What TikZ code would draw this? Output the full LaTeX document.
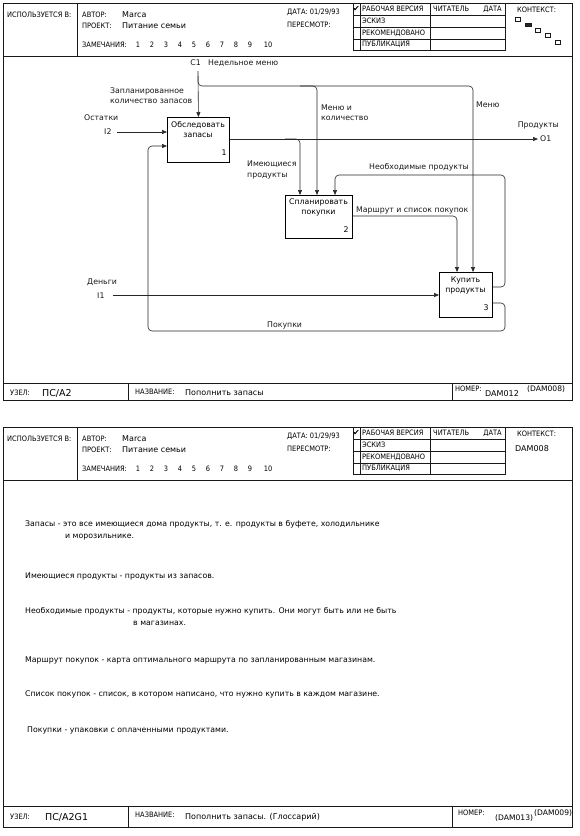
\documentclass[tikz,border=0pt]{standalone}
\usepackage{fontspec}
\setmainfont{DejaVu Sans}
\newfontfamily\condf{DejaVu Sans Condensed}
\usetikzlibrary{arrows.meta,calc}
\tikzset{
 frm/.style={draw=black!90, line width=0.9pt},
 thinl/.style={draw=black!90, line width=0.7pt},
 hcap/.style={font=\condf\fontsize{7.4}{8}\selectfont, inner sep=0pt, anchor=west, text=black},
 val/.style={font=\fontsize{8}{9.5}\selectfont, inner sep=0pt, anchor=west, text=black},
 lbl/.style={font=\fontsize{7.8}{10.5}\selectfont, inner sep=0pt, align=left, anchor=west, text=black!90},
 ptxt/.style={font=\fontsize{7.8}{10}\selectfont, inner sep=0pt, align=center, text=black},
 proc/.style={draw=black, line width=0.9pt, anchor=north west, inner sep=0pt},
 arr/.style={draw=black!85, line width=0.6pt, -{Triangle[length=5pt,width=4pt]}},
 rc/.style={rounded corners=4pt},
 gl/.style={font=\fontsize{7.8}{9}\selectfont, inner sep=0pt, anchor=west, text=black},
 ctxbox/.style={draw=black!90, line width=0.5pt},
}
\newcommand{\idefform}[3]{%
 \draw[frm] (3,3) rectangle (572,#3);
 \draw[frm] (3,56) -- (572,56);
 \draw[frm] (77,3) -- (77,56);
 \draw[frm] (3,#2) -- (572,#2);
 \draw[frm] (128,#2) -- (128,#3);
 \draw[frm] (452,#2) -- (452,#3);
 \draw[thinl] (353,3) rectangle (505,50);
 \draw[thinl] (360,3) -- (360,50);
 \draw[thinl] (430,3) -- (430,50);
 \draw[thinl] (353,15) -- (505,15);
 \draw[thinl] (353,27) -- (505,27);
 \draw[thinl] (353,39) -- (505,39);
 \node[hcap] (#1used) at (7,15) {ИСПОЛЬЗУЕТСЯ В:};
 \node[hcap] (#1auth) at (82,15) {АВТОР:};
 \node[val] (#1authv) at (122,15) {Marca};
 \node[hcap] (#1proj) at (82,26) {ПРОЕКТ:};
 \node[val] (#1projv) at (122,26) {Питание семьи};
 \node[hcap] (#1rem) at (82,45) {ЗАМЕЧАНИЯ:};
 \foreach \n/\x in {1/138,2/152,3/166,4/180,5/194,6/208,7/222,8/236,9/250,10/268}
   \node[hcap,anchor=center] (#1n\n) at (\x,45) {\n};
 \node[hcap] (#1date) at (287,12) {ДАТА: 01/29/93};
 \node[hcap] (#1rev) at (287,25) {ПЕРЕСМОТР:};
 \node[font=\fontsize{8}{8}\selectfont, inner sep=0pt] (#1chk) at (356.5,9) {✔};
 \node[hcap] (#1s1) at (362,9) {РАБОЧАЯ ВЕРСИЯ};
 \node[hcap] (#1s2) at (362,21) {ЭСКИЗ};
 \node[hcap] (#1s3) at (362,33) {РЕКОМЕНДОВАНО};
 \node[hcap] (#1s4) at (362,44.5) {ПУБЛИКАЦИЯ};
 \node[hcap] (#1rd) at (433,9) {ЧИТАТЕЛЬ};
 \node[hcap,anchor=east] (#1rdd) at (502,9) {ДАТА};
 \node[hcap] (#1ctx) at (517,10) {КОНТЕКСТ:};
}
\begin{document}
\begin{tikzpicture}[x=1pt,y=-1pt]
\useasboundingbox[fill=white] (0,0) rectangle (579,836);
% ================= PAGE 1 =================
\begin{scope}
\idefform{a}{383}{400}
% context squares
\draw[ctxbox] (515,17) rectangle (520,21);
\draw[ctxbox,fill=black!85] (525,23) rectangle (531,26.5);
\draw[ctxbox] (535,28) rectangle (540,32);
\draw[ctxbox] (545,33) rectangle (550,37);
\draw[ctxbox] (555,40) rectangle (560,44);
% boxes
\node[proc, minimum width=62pt, minimum height=45pt] (b1) at (167,117) {};
\node[proc, minimum width=67pt, minimum height=43pt] (b2) at (285,195) {};
\node[proc, minimum width=53pt, minimum height=45pt] (b3) at (439,272) {};
\node[ptxt] (b1t) at (198,130) {Обследовать\\запасы};
\node[ptxt] (b2t) at (318.5,207.5) {Спланировать\\покупки};
\node[ptxt] (b3t) at (465.5,285.5) {Купить\\продукты};
\node[ptxt] (b1n) at (224,153) {1};
\node[ptxt] (b2n) at (346,230) {2};
\node[ptxt] (b3n) at (486,308) {3};
% boundary ends
\coordinate (c1) at (198,71);
\coordinate (c1br) at (198,76);
\coordinate (i2) at (117,132);
\coordinate (i1) at (113,295);
\coordinate (o1) at (538,139);
% labels
\node[lbl,anchor=east] (c1l) at (201,63) {C1};
\node[lbl] (c1t) at (208,63) {Недельное меню};
\node[lbl] (planl) at (110,95.5) {Запланированное\\количество запасов};
\node[lbl] (ostl) at (84,118) {Остатки};
\node[lbl] (i2l) at (104,132) {I2};
\node[lbl] (menkl) at (321,112.5) {Меню и\\количество};
\node[lbl] (menl) at (476,105) {Меню};
\node[lbl,anchor=east] (prodl) at (559,125) {Продукты};
\node[lbl] (o1l) at (540,139) {O1};
\node[lbl] (imel) at (247,170) {Имеющиеся\\продукты};
\node[lbl] (neol) at (369,167) {Необходимые продукты};
\node[lbl] (marl) at (356,210) {Маршрут и список покупок};
\node[lbl] (denl) at (87,282) {Деньги};
\node[lbl] (i1l) at (97,296) {I1};
\node[lbl] (pokl) at (267,325) {Покупки};
% connectors
\draw[arr] (c1) -- (b1.north);
\draw[arr,rc] (c1br) -- (198,86) -- (473,86) -- ($(b3.north west)+(34,0)$);
\draw[arr,rc] (300,86) -- (317,86) -- ($(b2.north west)+(32,0)$);
\draw[arr] (i2) -- ($(b1.north west)+(0,15)$);
\draw[arr] ($(b1.north east)+(0,22)$) -- (o1);
\draw[arr,rc] (285,139) -- (300,139) -- ($(b2.north west)+(15,0)$);
\draw[arr,rc] ($(b2.north east)+(0,21)$) -- (457,216) -- ($(b3.north west)+(18,0)$);
\draw[arr,rc] ($(b3.north east)+(0,15)$) -- (505,287) -- (505,175) -- (335,175) -- ($(b2.north west)+(50,0)$);
\draw[arr,rc] ($(b3.north east)+(0,31)$) -- (505,303) -- (505,331) -- (148,331) -- (148,146) -- ($(b1.north west)+(0,29)$);
\draw[arr] (i1) -- ($(b3.north west)+(0,23)$);
% footer
\node[hcap] (f1a) at (10,393) {УЗЕЛ:};
\node[val,font=\fontsize{9.5}{10}\selectfont] (f1b) at (42,393) {ПС/А2};
\node[hcap] (f1c) at (135,392) {НАЗВАНИЕ:};
\node[val] (f1d) at (185,393) {Пополнить запасы};
\node[hcap] (f1e) at (455,389) {НОМЕР:};
\node[val] (f1f) at (485,393.5) {DAM012};
\node[val,font=\fontsize{7.6}{8}\selectfont] (f1g) at (527,389) {(DAM008)};
\end{scope}
% ================= PAGE 2 =================
\begin{scope}[yshift=-424pt]
\idefform{b}{382}{403}
\node[val] (ctx2) at (515,25) {DAM008};
\node[gl] (g1) at (25,100) {Запасы - это все имеющиеся дома продукты, т. е. продукты в буфете, холодильнике};
\node[gl] (g1b) at (65,113) {и морозильнике.};
\node[gl] (g2) at (25,152) {Имеющиеся продукты - продукты из запасов.};
\node[gl] (g3) at (25,187) {Необходимые продукты - продукты, которые нужно купить. Они могут быть или не быть};
\node[gl] (g3b) at (133,199) {в магазинах.};
\node[gl] (g4) at (25,236) {Маршрут покупок - карта оптимального маршрута по запланированным магазинам.};
\node[gl] (g5) at (25,270) {Список покупок - список, в котором написано, что нужно купить в каждом магазине.};
\node[gl] (g6) at (27,306) {Покупки - упаковки с оплаченными продуктами.};
\node[hcap] (f2a) at (10,393) {УЗЕЛ:};
\node[val,font=\fontsize{9.5}{10}\selectfont] (f2b) at (45,393) {ПС/А2G1};
\node[hcap] (f2c) at (135,391) {НАЗВАНИЕ:};
\node[val] (f2d) at (185,393) {Пополнить запасы. (Глоссарий)};
\node[hcap] (f2e) at (458,389) {НОМЕР:};
\node[val,font=\fontsize{7.6}{8}\selectfont] (f2f) at (495,394) {(DAM013)};
\node[val,font=\fontsize{7.6}{8}\selectfont] (f2g) at (534,389) {(DAM009)};
\end{scope}
\end{tikzpicture}
\end{document}
